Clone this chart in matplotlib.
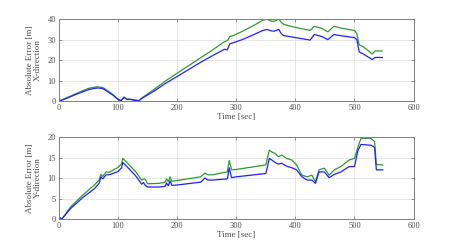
import matplotlib
matplotlib.use("Agg")
from matplotlib import pyplot as plt

# X-direction error (top panel)
t_x = [0, 10, 20, 30, 40, 50, 60, 65, 70, 75, 80, 90, 100, 105, 110, 115, 120, 130, 135,
       140, 150, 160, 180, 200, 220, 240, 260, 280, 285, 289, 295, 310, 330, 345, 352, 360,
       365, 372, 376, 380, 400, 425, 432, 445, 455, 465, 480, 500, 504, 508, 515, 530, 535, 547]
x_green = [0, 1.2, 2.5, 3.8, 5, 6.2, 6.8, 7, 6.8, 6.5, 5.5, 3.5, 1, 0.3, 2, 1, 1, 0.5, 0.3,
           1.5, 3.5, 5.5, 9.8, 13.6, 17.4, 21.2, 25, 29, 29.5, 31.5, 32, 34, 37, 39.5, 40, 39,
           39, 40, 38.5, 37.5, 36, 34.5, 36.5, 35.5, 33.8, 36.5, 35.5, 34.5, 33, 27.5, 26.5, 23, 24.5, 24.5]
x_blue = [0, 1, 2.2, 3.4, 4.5, 5.6, 6.2, 6.4, 6.3, 6, 5, 3.2, 0.8, 0.2, 1.8, 0.8, 0.8, 0.3, 0.1,
          1.2, 3, 4.7, 8.6, 12, 15.5, 19, 22.2, 25.3, 25, 28, 28.5, 30, 32.5, 34.5, 35, 34.2,
          34.2, 35, 33, 32, 31, 29.8, 32.5, 31.5, 30, 32.5, 31.8, 31, 30, 24, 23, 20.3, 21.3, 21.3]

# Y-direction error (bottom panel)
t_y = [0, 2, 5, 20, 40, 60, 68, 71, 74, 80, 85, 100, 106, 108, 115, 130, 140, 143, 146, 150,
       170, 180, 182, 185, 188, 191, 200, 240, 247, 252, 260, 285, 288, 292, 300, 350, 356, 362,
       366, 371, 377, 385, 394, 402, 411, 420, 428, 434, 440, 449, 457, 466, 477, 491, 500, 506,
       511, 528, 534, 537, 548]
y_green = [0.6, 0.3, 0, 3, 5.8, 8.3, 9.5, 10.9, 10.4, 11.5, 11.4, 12.6, 13.5, 14.8, 13.8, 11.5,
           9.5, 9.8, 9.7, 8.6, 8.7, 9, 9.8, 9.1, 10.3, 9.2, 9.4, 10.3, 11.2, 10.8, 10.8, 11.5,
           14.3, 12, 12.1, 13.2, 16.8, 16.2, 16, 15.2, 15.6, 14.8, 14.4, 13.2, 10.7, 10.3, 10.7,
           9.1, 12, 12.4, 10.7, 12, 12.8, 14.4, 14.8, 17.6, 19.7, 19.7, 18.9, 13.3, 13.2]
y_blue = [0.4, 0.2, 0, 2.6, 5.2, 7.4, 8.7, 10.3, 9.8, 10.8, 10.8, 11.6, 12.5, 13.8, 12.8, 10.5,
          8.5, 8.9, 8.2, 7.8, 7.8, 8, 8.8, 8.1, 9.3, 8.2, 8.3, 9, 10, 9.5, 9.5, 9.8, 12.5, 10.1,
          10.3, 11.1, 14.8, 14.2, 13.8, 13.4, 13.6, 12.9, 12.5, 12, 10.3, 9.5, 9.5, 8.7, 11.5,
          11.5, 10.1, 10.9, 11.5, 12.8, 12.8, 16.8, 18.2, 18, 17.5, 12, 12]

plt.rcParams["font.family"] = ["Liberation Serif", "DejaVu Serif"]
plt.rcParams["font.size"] = 6

txt_col = "#4d4d4d"
frame_col = "#808080"

fig = plt.figure(figsize=(4.57, 2.49), dpi=100)
ax1 = fig.add_axes([0.129, 0.594, 0.776, 0.329])
ax2 = fig.add_axes([0.129, 0.1205, 0.776, 0.329])

panels = [
    (ax1, t_x, x_green, x_blue, 40, [0, 10, 20, 30, 40], "Absolute Error [m]\nX-direction"),
    (ax2, t_y, y_green, y_blue, 20, [0, 5, 10, 15, 20], "Absolute Error [m]\nY-direction"),
]

for _ax, _t, _g, _b, _ymax, _yticks, _label in panels:
    _ax.plot(_t, _g, color="#2e9a2e", lw=0.9)
    _ax.plot(_t, _b, color="#2020ff", lw=0.9)
    _ax.set_xlim(0, 600)
    _ax.set_ylim(0, _ymax)
    _ax.set_xticks([0, 100, 200, 300, 400, 500, 600])
    _ax.set_yticks(_yticks)
    _ax.grid(True, color="#e3e3e3", lw=0.6)
    _ax.set_axisbelow(True)
    _ax.tick_params(direction="in", top=True, right=True, length=2.5, width=0.6,
                    colors=frame_col, labelcolor=txt_col, labelsize=6, pad=2)
    for _s in _ax.spines.values():
        _s.set_color(frame_col)
        _s.set_linewidth(0.7)
    _ax.set_ylabel(_label, color=txt_col, fontsize=6.5, linespacing=1.0, labelpad=4)
    _ax.set_xlabel("Time [sec]", color=txt_col, fontsize=6.5, labelpad=1)

fig.savefig("out.png", dpi=100)
